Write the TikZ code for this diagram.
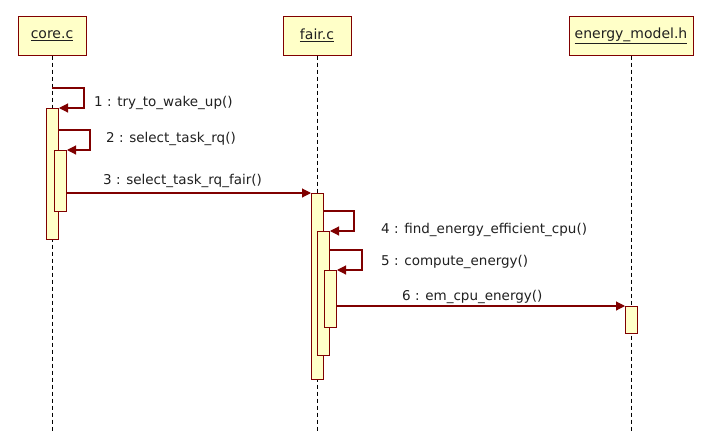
\documentclass[tikz,border=0pt]{standalone}
\usepackage{fontspec}
\setmainfont{DejaVu Sans}
\usetikzlibrary{arrows.meta}
\definecolor{boxfill}{HTML}{FFFFC8}
\definecolor{boxline}{HTML}{800000}
\definecolor{txt}{HTML}{202020}

\begin{document}
\begin{tikzpicture}[x=1pt, y=-1pt,
    unit/.style={draw=boxline, fill=boxfill, line width=1pt, minimum height=39pt,
                 inner sep=0pt, text=txt, font=\fontsize{14}{16}\selectfont},
    act/.style={draw=boxline, fill=boxfill, line width=1pt, minimum width=12pt,
                inner sep=0pt, anchor=north west},
    life/.style={dash pattern=on 4pt off 3pt, line width=1pt},
    msg/.style={draw=boxline, line width=1.1pt, -{Triangle[length=9pt, width=9pt]}},
    lbl/.style={anchor=west, text=txt, inner sep=0pt, font=\fontsize{13.5}{15}\selectfont}
]
    \useasboundingbox (0,0) rectangle (707,445);

    % objects
    \node[unit, minimum width=68pt] (core) at (52,35.5) {\underline{core.c}};
    \node[unit, minimum width=68pt] (fair) at (317,35.5) {\underline{fair.c}};
    \node[unit, minimum width=124pt] (energy) at (631,35.5) {\underline{energy\_model.h}};

    \coordinate (bottom) at (0,432);
    \draw[life] (core.south) -- (core.south |- bottom);
    \draw[life] (fair.south) -- (fair.south |- bottom);
    \draw[life] (energy.south) -- (energy.south |- bottom);

    % activations
    \node[act, minimum height=131pt] (act1) at (46,108) {};
    \node[act, minimum height=61pt] (act2) at (54,150) {};
    \node[act, minimum height=186pt] (fact1) at (311,193) {};
    \node[act, minimum height=124pt] (fact2) at (317,231) {};
    \node[act, minimum height=57pt] (fact3) at (324,270) {};
    \node[act, minimum height=27pt] (eact) at (625,306) {};

    % messages
    \coordinate (m1) at (52,88);
    \coordinate (m2) at (58,130);
    \coordinate (m4) at (323,211);
    \coordinate (m5) at (329,250);
    \draw[msg] (m1) -| ([xshift=25pt]act1.north east) -- (act1.north east);
    \draw[msg] (m2) -| ([xshift=23pt]act2.north east) -- (act2.north east);
    \draw[msg] (act2.east |- fact1.north) -- (fact1.north west);
    \draw[msg] (m4) -| ([xshift=24pt]fact2.north east) -- (fact2.north east);
    \draw[msg] (m5) -| ([xshift=25pt]fact3.north east) -- (fact3.north east);
    \draw[msg] (fact3.east |- eact.north) -- (eact.north west);

    \node[lbl] (l1) at (94,103) {1 : try\_to\_wake\_up()};
    \node[lbl] (l2) at (106,139) {2 : select\_task\_rq()};
    \node[lbl] (l3) at (103,181) {3 : select\_task\_rq\_fair()};
    \node[lbl] (l4) at (381,230) {4 : find\_energy\_efficient\_cpu()};
    \node[lbl] (l5) at (381,262) {5 : compute\_energy()};
    \node[lbl] (l6) at (402,297) {6 : em\_cpu\_energy()};
\end{tikzpicture}
\end{document}
